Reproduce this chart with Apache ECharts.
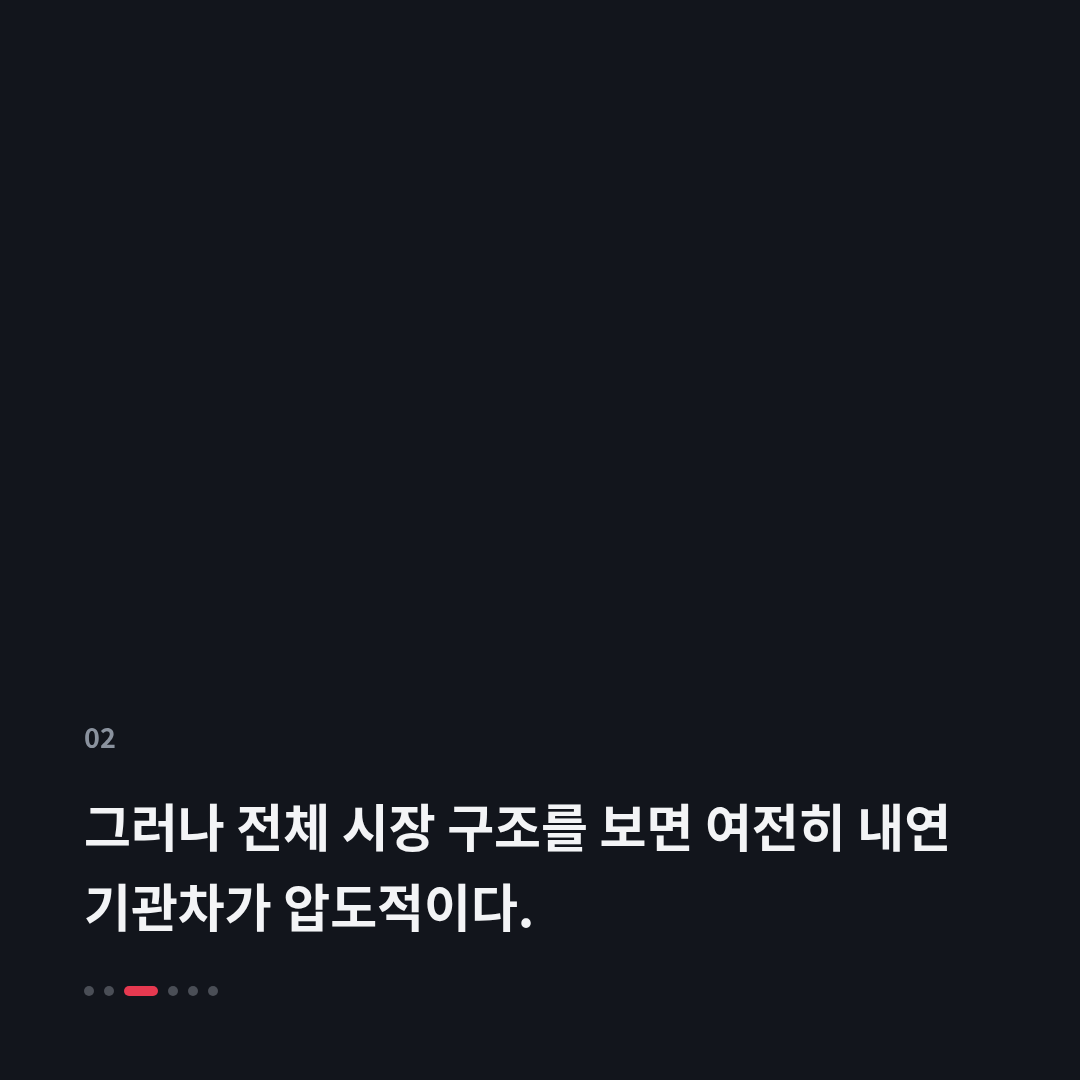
<!DOCTYPE html>
<html>
<head>
<meta charset="utf-8">
<script src="https://cdn.jsdelivr.net/npm/echarts@6/dist/echarts.min.js"></script>
<style>
  html, body { margin: 0; padding: 0; background: #12151c; }
  #main { width: 1080px; height: 1080px; }
</style>
</head>
<body>
<div id="main"></div>
<script>
// 슬라이드 내용
var slideNo = '02';
var titleLines = ['그러나 전체 시장 구조를 보면 여전히 내연', '기관차가 압도적이다.'];
// 페이지 표시 점 (6개 중 3번째가 현재)
var dotCount = 6;
var activeDot = 2;

var chart = echarts.init(document.getElementById('main'));

var dots = [];
var x = 84;
for (var i = 0; i < dotCount; i++) {
    var w = (i === activeDot) ? 34 : 10;
    dots.push({
        type: 'rect',
        shape: { x: x, y: 986, width: w, height: 10, r: 5 },
        style: { fill: i === activeDot ? '#e63950' : '#4a4e56' }
    });
    x += w + 10;
}

var option = {
    backgroundColor: '#12151c',
    graphic: [
        {
            type: 'text',
            left: 84,
            top: 724,
            style: {
                text: slideNo,
                fill: '#8a929e',
                font: 'bold 27px "Noto Sans CJK KR", "Noto Sans", sans-serif'
            }
        },
        {
            type: 'text',
            left: 84,
            top: 788,
            style: {
                text: titleLines.join('\n'),
                fill: '#f3f4f6',
                font: 'bold 51px "Noto Sans CJK KR", sans-serif',
                lineHeight: 80
            }
        }
    ].concat(dots)
};

chart.setOption(option);
</script>
</body>
</html>
